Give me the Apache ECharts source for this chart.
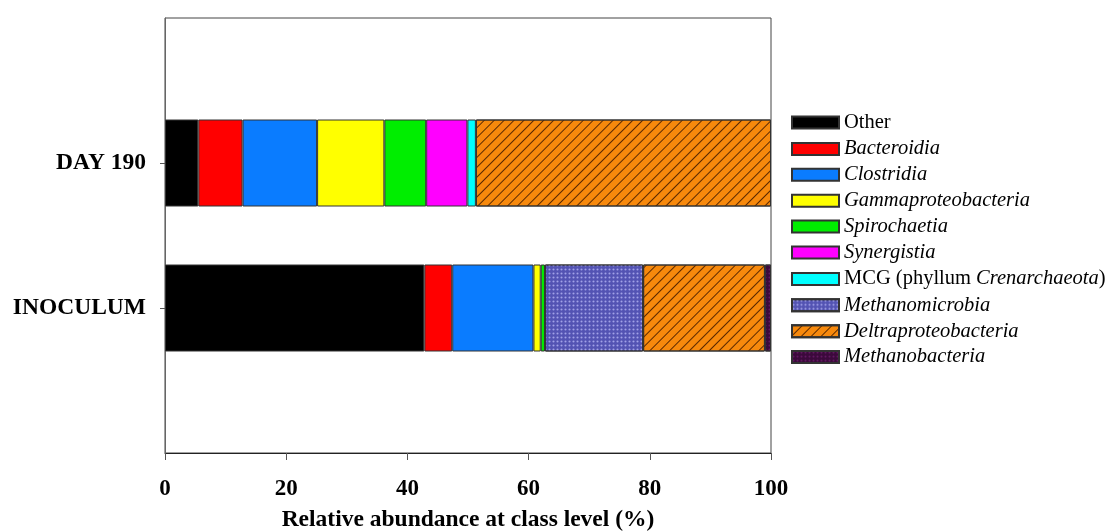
<!DOCTYPE html>
<html>
<head>
<meta charset="utf-8">
<script src="https://cdn.jsdelivr.net/npm/echarts@6/dist/echarts.min.js"></script>
<style>html,body{margin:0;padding:0;background:#fff;}#c{width:1107px;height:531px;}</style>
</head>
<body>
<div id="c"></div>
<script>
// Samples (bottom to top)
var categories = ['INOCULUM', 'DAY 190'];
// Class names (legend order)
var classNames = ['Other', 'Bacteroidia', 'Clostridia', 'Gammaproteobacteria', 'Spirochaetia', 'Synergistia',
  'MCG (phyllum Crenarchaeota)', 'Methanomicrobia', 'Deltraproteobacteria', 'Methanobacteria'];
// Relative abundance (%) per class: [INOCULUM, DAY 190]
var other            = [42.8, 5.5];
var bacteroidia      = [4.6, 7.3];
var clostridia       = [13.4, 12.3];
var gammaproteo      = [1.2, 11.1];
var spirochaetia     = [0.7, 6.9];
var synergistia      = [0, 6.8];
var mcg              = [0, 1.4];
var methanomicrobia  = [16.2, 0];
var deltaproteo      = [20.1, 48.7];
var methanobacteria  = [1.0, 0];
var xTicks = [0, 20, 40, 60, 80, 100];

var seriesValues = [other, bacteroidia, clostridia, gammaproteo, spirochaetia, synergistia, mcg, methanomicrobia, deltaproteo, methanobacteria];
var colors = ['#000000', '#ff0000', '#0a7cff', '#ffff00', '#00ee00', '#ff00ff', '#00ffff', '#5353b3', '#f7890c', '#3b0a3b'];
var decals = {
  7: {symbol: 'circle', symbolSize: 0.7, dashArrayX: [3, 1], dashArrayY: [3, 1], color: 'rgba(175,175,240,0.85)'},
  8: {symbol: 'rect', symbolSize: 1, dashArrayX: [1, 0], dashArrayY: [1, 6], rotation: -Math.PI / 4, color: '#5a2800'},
  9: {symbol: 'circle', symbolSize: 0.7, dashArrayX: [3, 1], dashArrayY: [3, 1], color: 'rgba(110,30,110,0.8)'}
};

var yCats = [''].concat(categories).concat(['']);
var font = "'Liberation Serif', 'Times New Roman', serif";

var series = classNames.map(function (name, i) {
  var vals = seriesValues[i];
  var d = [null].concat(vals.map(function (v) { return v > 0 ? v : null; })).concat([null]);
  var st = {color: colors[i], borderColor: '#333', borderWidth: 1};
  if (decals[i]) st.decal = decals[i];
  return {
    name: name, type: 'bar', stack: 'total', barWidth: '60%',
    data: d, itemStyle: st, emphasis: {disabled: true}
  };
});

var chart = echarts.init(document.getElementById('c'));
chart.setOption({
  animation: false,
  grid: {left: 165, top: 18, right: 336, bottom: 78, outerBoundsMode: 'none', containLabel: false,
    show: true, borderColor: '#444', borderWidth: 1, backgroundColor: 'transparent'},
  xAxis: {
    type: 'value', min: 0, max: 100, interval: 20,
    splitLine: {show: false},
    axisLine: {show: true, lineStyle: {color: '#222', width: 1}},
    axisTick: {show: true, inside: false, length: 7, lineStyle: {color: '#555'}},
    axisLabel: {margin: 25, fontFamily: font, fontWeight: 'bold', fontSize: 23, color: '#000',
      formatter: function (v) { return xTicks.indexOf(v) >= 0 ? String(v) : ''; }},
    name: 'Relative abundance at class level (%)', nameLocation: 'middle', nameGap: 55,
    nameTextStyle: {fontFamily: font, fontWeight: 'bold', fontSize: 23.5, color: '#000'}
  },
  yAxis: {
    type: 'category', data: yCats, boundaryGap: false,
    axisLine: {show: true, lineStyle: {color: '#666', width: 1}},
    axisTick: {show: true, inside: false, length: 5, lineStyle: {color: '#555'},
      interval: function (idx) { return idx === 1 || idx === 2; }},
    axisLabel: {margin: 19, fontFamily: font, fontWeight: 'bold', fontSize: 23.5, color: '#000',
      interval: function (idx) { return idx === 1 || idx === 2; }},
    splitLine: {show: false}
  },
  legend: {
    orient: 'vertical', left: 786, top: 107,
    itemWidth: 47, itemHeight: 12, itemGap: 5.9, icon: 'rect',
    textStyle: {fontFamily: font, fontSize: 20.5, color: '#000', fontStyle: 'italic', lineHeight: 20,
      rich: {n: {fontFamily: font, fontSize: 20.5, color: '#000', fontStyle: 'normal'},
             i: {fontFamily: font, fontSize: 20.5, color: '#000', fontStyle: 'italic'}}},
    formatter: function (name) {
      if (name === 'Other') return '{n|Other}';
      if (name.indexOf('MCG') === 0) return '{n|MCG (phyllum }{i|Crenarchaeota}{n|)}';
      return '{i|' + name + '}';
    },
    data: classNames,
    selectedMode: false
  },
  series: series
});
</script>
</body>
</html>
